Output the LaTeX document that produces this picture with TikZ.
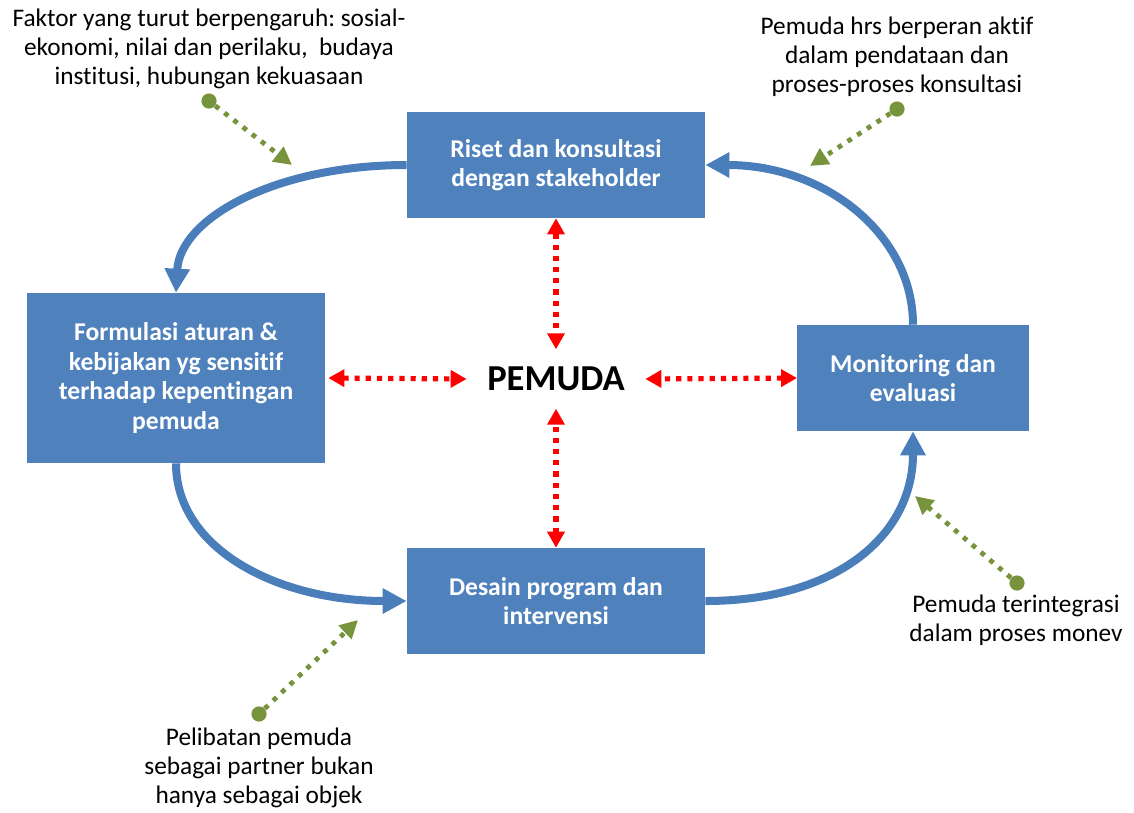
\documentclass[tikz,border=0pt]{standalone}
\usepackage{fontspec}
\setmainfont{Carlito}[Ligatures=NoCommon]
\frenchspacing
\usetikzlibrary{arrows.meta}
\definecolor{bleu}{RGB}{79,129,189}
\definecolor{bleufleche}{RGB}{74,126,187}
\definecolor{olive}{RGB}{119,147,60}

\begin{document}
\begin{tikzpicture}[x=0.025cm,y=-0.025cm,
  boite/.style={fill=bleu,text=white,font=\fontsize{18.2}{21}\selectfont\bfseries,align=center,inner sep=0pt},
  texte/.style={align=center,font=\fontsize{18}{20.6}\selectfont},
  cycle/.style={line width=0.2cm,bleufleche,-{Triangle[length=0.6cm,width=0.6cm]}},
  lien/.style={line width=0.13cm,red,dash pattern=on 0.13cm off 0.15cm,{Triangle[length=0.4cm,width=0.42cm]}-{Triangle[length=0.4cm,width=0.42cm]}},
  pointe/.style={circle,fill=olive,minimum size=0.38cm,inner sep=0pt},
  indic/.style={line width=0.12cm,olive,dash pattern=on 0.12cm off 0.17cm,-{Triangle[length=0.45cm,width=0.45cm]}}]
\useasboundingbox (0,0) rectangle (1134,812);
% les quatre etapes
\node [boite,minimum width=7.45cm,minimum height=2.65cm] (riset) at (556,165) {Riset dan konsultasi\\dengan stakeholder};
\node [boite,minimum width=7.45cm,minimum height=4.25cm] (formulasi) at (176,378) {Formulasi aturan \&\\kebijakan yg sensitif\\terhadap kepentingan\\pemuda};
\node [boite,minimum width=5.78cm,minimum height=2.65cm] (monev) at (913,378) {Monitoring dan\\evaluasi};
\node [boite,minimum width=7.45cm,minimum height=2.65cm] (desain) at (556,601) {Desain program dan\\intervensi};
\node [minimum width=4.45cm,minimum height=1.47cm,font=\fontsize{26}{30}\selectfont\bfseries] (pemuda) at (556,379) {PEMUDA};
% le cycle
\draw [cycle] (riset.west) .. controls +(-130,0) and +(4,-75) .. (formulasi.north);
\draw [cycle] (formulasi.south) .. controls +(0,85) and +(-130,0) .. (desain.west);
\draw [cycle] (desain.east) .. controls +(130,0) and +(0,105) .. (monev.south);
\draw [cycle] (monev.north) .. controls +(0,-90) and +(120,0) .. (riset.east);
% liens avec pemuda
\draw [lien] (riset.south) -- (pemuda.north);
\draw [lien] (desain.north) -- (pemuda.south);
\draw [lien] (formulasi.east) ++(3,0) -- (pemuda.west);
\draw [lien] (monev.west) -- (pemuda.east);
% remarques
\node [texte] (faktor) at (209,49) {Faktor yang turut berpengaruh: sosial-\\ekonomi, nilai dan perilaku,~ budaya\\institusi, hubungan kekuasaan};
\node [texte] (aktif) at (897,57) {Pemuda hrs berperan aktif\\dalam pendataan dan\\proses-proses konsultasi};
\node [texte] (integrasi) at (1016,620) {Pemuda terintegrasi\\dalam proses monev};
\node [texte] (partner) at (259,768) {Pelibatan pemuda\\sebagai partner bukan\\hanya sebagai objek};
\node [pointe] (p1) at (209,101) {};
\node [pointe] (p2) at (897,109) {};
\node [pointe] (p3) at (1017,583) {};
\node [pointe] (p4) at (259,714) {};
\coordinate (c1) at (292,165);
\coordinate (c2) at (810,166);
\coordinate (c3) at (915,496);
\coordinate (c4) at (358,620);
\draw [indic] (p1) -- (c1);
\draw [indic] (p2) -- (c2);
\draw [indic] (p3) -- (c3);
\draw [indic] (p4) -- (c4);
\end{tikzpicture}
\end{document}
